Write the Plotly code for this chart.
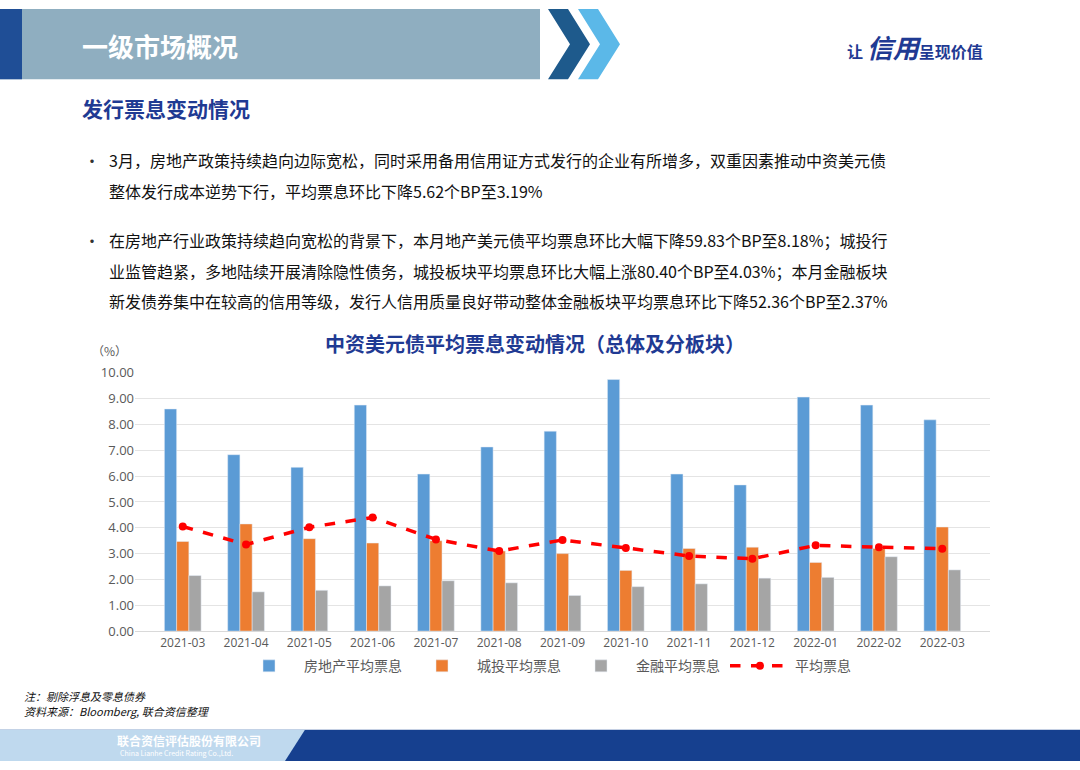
import plotly.graph_objects as go

months = ["2021-03", "2021-04", "2021-05", "2021-06", "2021-07", "2021-08", "2021-09",
          "2021-10", "2021-11", "2021-12", "2022-01", "2022-02", "2022-03"]
real_estate = [8.60, 6.83, 6.34, 8.75, 6.08, 7.13, 7.74, 9.74, 6.08, 5.66, 9.06, 8.75, 8.18]
chengtou = [3.47, 4.15, 3.58, 3.41, 3.50, 3.10, 3.00, 2.35, 3.20, 3.25, 2.66, 3.20, 4.03]
finance = [2.15, 1.52, 1.58, 1.75, 1.95, 1.87, 1.38, 1.72, 1.83, 2.05, 2.08, 2.88, 2.37]
average = [4.05, 3.35, 4.02, 4.40, 3.55, 3.10, 3.53, 3.22, 2.91, 2.80, 3.32, 3.25, 3.19]

FONT = "Noto Sans CJK SC"
W, H = 1080, 770


def px(x):
    return x / W


def py(y):
    return 1 - y / H


fig = go.Figure()
fig.add_bar(x=months, y=real_estate, name="房地产平均票息", marker_color="#5B9BD5")
fig.add_bar(x=months, y=chengtou, name="城投平均票息", marker_color="#ED7D31")
fig.add_bar(x=months, y=finance, name="金融平均票息", marker_color="#A5A5A5")
fig.add_scatter(x=months, y=average, name="平均票息", mode="lines+markers",
                line=dict(color="#FF0000", width=3.5, dash="dash"),
                marker=dict(color="#FF0000", size=8))

fig.update_layout(
    width=W, height=H, margin=dict(l=0, r=0, t=0, b=0),
    paper_bgcolor="white", plot_bgcolor="white",
    font=dict(family=FONT, color="#595959"),
    barmode="group", bargap=0.42, bargroupgap=0,
    showlegend=True,
    legend=dict(orientation="h", x=px(545), xanchor="center", y=py(673), yanchor="middle",
                font=dict(size=14, color="#595959"), itemwidth=60, traceorder="normal"),
    xaxis=dict(type="category", domain=[px(135), px(990)], showline=True, linecolor="#D9D9D9",
               tickfont=dict(size=12, family="Open Sans"), ticks=""),
    yaxis=dict(domain=[py(637), py(372)], range=[0, 10.02], dtick=1, tickformat=".2f",
               gridcolor="#E4E4E4", tickfont=dict(size=13, family="Open Sans"), zeroline=False),
)

shapes = [
    dict(type="rect", xref="paper", yref="paper", x0=px(0), x1=px(540), y0=py(72), y1=py(0),
         fillcolor="#8FAEC0", line_width=0, layer="below"),
    dict(type="rect", xref="paper", yref="paper", x0=px(0), x1=px(22), y0=py(72), y1=py(0),
         fillcolor="#1F4E96", line_width=0, layer="below"),
    dict(type="path", xref="paper", yref="paper",
         path=f"M {px(548)} {py(0)} L {px(568)} {py(0)} L {px(590)} {py(36)} L {px(568)} {py(72)} L {px(548)} {py(72)} L {px(570)} {py(36)} Z",
         fillcolor="#1E5A8C", line_width=0),
    dict(type="path", xref="paper", yref="paper",
         path=f"M {px(578)} {py(0)} L {px(598)} {py(0)} L {px(620)} {py(36)} L {px(598)} {py(72)} L {px(578)} {py(72)} L {px(600)} {py(36)} Z",
         fillcolor="#5BB8E8", line_width=0),
    dict(type="rect", xref="paper", yref="paper", x0=px(0), x1=px(1080), y0=py(770), y1=py(738),
         fillcolor="#16408F", line_width=0, layer="below"),
    dict(type="path", xref="paper", yref="paper",
         path=f"M {px(0)} {py(770)} L {px(285)} {py(770)} L {px(305)} {py(738)} L {px(0)} {py(738)} Z",
         fillcolor="#BFD9EE", line_width=0, layer="below"),
]
fig.update_layout(shapes=shapes)


def txt(x, y, s, size, color="#000000", bold=False, xanchor="left", family=FONT, italic=False):
    if bold:
        s = f"<b>{s}</b>"
    if italic:
        s = f"<i>{s}</i>"
    fig.add_annotation(xref="paper", yref="paper", x=px(x), y=py(y), text=s, showarrow=False,
                       xanchor=xanchor, yanchor="middle", font=dict(size=size, color=color, family=family))


txt(80, 37, "一级市场概况", 26, "white", bold=True)
txt(845, 38, "让 <span style='font-size:26px'><i>信用</i></span>呈现价值", 16, "#1F3A93", bold=True)
txt(80, 101, "发行票息变动情况", 21, "#1F3A93", bold=True)

lines = [
    (155, "3月，房地产政策持续趋向边际宽松，同时采用备用信用证方式发行的企业有所增多，双重因素推动中资美元债", True),
    (186, "整体发行成本逆势下行，平均票息环比下降5.62个BP至3.19%", False),
    (237, "在房地产行业政策持续趋向宽松的背景下，本月地产美元债平均票息环比大幅下降59.83个BP至8.18%；城投行", True),
    (268, "业监管趋紧，多地陆续开展清除隐性债务，城投板块平均票息环比大幅上涨80.40个BP至4.03%；本月金融板块", False),
    (299, "新发债券集中在较高的信用等级，发行人信用质量良好带动整体金融板块平均票息环比下降52.36个BP至2.37%", False),
]
for y, s, bullet in lines:
    if bullet:
        txt(82, y, "•", 16, "#333333")
    txt(107, y, s, 16, "#111111")

txt(535, 343, "中资美元债平均票息变动情况（总体及分板块）", 20, "#1F3A93", bold=True, xanchor="center")
txt(90, 350, "（%）", 12, "#595959")
txt(22, 703, "注：剔除浮息及零息债券", 11, "#111111", italic=True)
txt(22, 719, "资料来源：Bloomberg, 联合资信整理", 11, "#111111", italic=True)
txt(115, 749, "联合资信评估股份有限公司", 12, "white", bold=True)
txt(118, 762, "China Lianhe Credit Rating Co.,Ltd.", 7, "white")

fig.write_html("out.html", config={"displayModeBar": False},
               post_script="document.body.style.margin='0px';")
